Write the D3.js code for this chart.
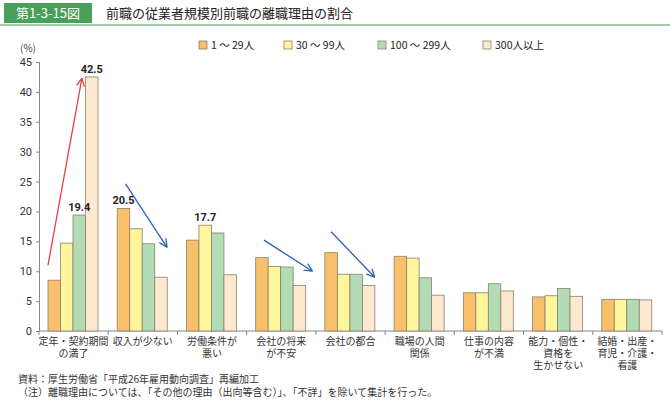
<!DOCTYPE html>
<html>
<head>
<meta charset="UTF-8">
<script src="https://d3js.org/d3.v7.min.js"></script>
<style>
body{margin:0;background:#fff;font-family:"Noto Sans CJK JP",sans-serif;}
</style>
</head>
<body>
<svg id="chart" width="670" height="400"></svg>
<script>
// categories (two-line labels)
var categories = [
  ["定年・契約期間","の満了"],["収入が少ない"],["労働条件が","悪い"],["会社の将来","が不安"],
  ["会社の都合"],["職場の人間","関係"],["仕事の内容","が不満"],["能力・個性・","資格を","生かせない"],
  ["結婚・出産・","育児・介護・","看護"]
];
var seriesNames = ["1 ～ 29人","30 ～ 99人","100 ～ 299人","300人以上"];
var s1 = [8.5,20.5,15.2,12.3,13.1,12.5,6.4,5.7,5.3];
var s2 = [14.7,17.1,17.7,10.8,9.5,12.2,6.4,5.9,5.3];
var s3 = [19.4,14.6,16.4,10.7,9.5,8.9,7.9,7.1,5.3];
var s4 = [42.5,9.0,9.4,7.6,7.6,6.0,6.7,5.8,5.2];
var labeled = [[0,2,19.4],[0,3,42.5],[1,0,20.5],[2,1,17.7]];
var yTicks = [0,5,10,15,20,25,30,35,40,45];
// arrows: [category, position across group 0..1, value] start/end
var arrows = [
  {c:"#e8413f", from:[0,0.13,11], to:[0,0.62,42.3]},
  {c:"#2f5eb5", from:[1,0.25,24.6], to:[1,0.85,14.0]},
  {c:"#2f5eb5", from:[3,0.25,15.2], to:[3,0.95,10.0]},
  {c:"#2f5eb5", from:[4,0.22,16.6], to:[4,0.85,9.0]}
];
var colors = ["#f9bf6b","#fff59a","#b2dbb6","#fde9cf"];
var series = [s1,s2,s3,s4];

var svg = d3.select("#chart");
var m = {l:39,r:662,t:62,b:331};
var x = d3.scaleBand().domain(d3.range(categories.length)).range([m.l,m.r]).paddingInner(0).paddingOuter(0);
var y = d3.scaleLinear().domain([0,45]).range([m.b,m.t]);
var inner = d3.scaleBand().domain(d3.range(4)).range([9,9+4*12.5]);

// header
svg.append("rect").attr("x",4).attr("y",3).attr("width",88).attr("height",20).attr("fill","#4aa05a");
svg.append("text").attr("x",48).attr("y",18).attr("text-anchor","middle").attr("fill","#fff").attr("font-size",13).text("第1-3-15図");
svg.append("text").attr("x",106).attr("y",18).attr("font-size",13).attr("fill","#222").text("前職の従業者規模別前職の離職理由の割合");
svg.append("line").attr("x1",0).attr("x2",670).attr("y1",25).attr("y2",25).attr("stroke","#4aa05a").attr("stroke-width",1);

// axes
var ya = svg.append("g").attr("transform","translate("+m.l+",0)")
  .call(d3.axisLeft(y).tickValues(yTicks).tickSize(3).tickPadding(4));
ya.select(".domain").attr("stroke","#888");
ya.selectAll("line").attr("stroke","#888");
ya.selectAll("text").attr("font-size",11).attr("fill","#333").attr("font-family","Roboto, sans-serif");
svg.append("text").attr("x",20).attr("y",52).attr("font-size",10).attr("fill","#444").text("(%)");

svg.append("line").attr("x1",m.l).attr("x2",m.r).attr("y1",m.b).attr("y2",m.b).attr("stroke","#888");
svg.selectAll(".ct").data(d3.range(categories.length+1)).enter().append("line")
  .attr("x1",d=>m.l+d*x.bandwidth()).attr("x2",d=>m.l+d*x.bandwidth())
  .attr("y1",m.b).attr("y2",m.b+4).attr("stroke","#888");

// bars
series.forEach(function(s,si){
  svg.selectAll(".b"+si).data(s).enter().append("rect")
    .attr("x",(d,i)=>x(i)+inner(si)).attr("width",inner.bandwidth())
    .attr("y",d=>y(d)).attr("height",d=>y(0)-y(d))
    .attr("fill",colors[si]).attr("stroke","#8c7f6f").attr("stroke-width",0.8);
});
labeled.forEach(function(l){
  svg.append("text").attr("x",x(l[0])+inner(l[1])+inner.bandwidth()/2).attr("y",y(l[2])-4)
    .attr("text-anchor","middle").attr("font-size",11).attr("font-weight","bold")
    .attr("font-family","Roboto, sans-serif").attr("fill","#222").text(l[2].toFixed(1));
});

// category labels
categories.forEach(function(c,i){
  var cx = x(i)+x.bandwidth()/2;
  c.forEach(function(line,k){
    svg.append("text").attr("x",cx).attr("y",345+k*12).attr("text-anchor","middle")
      .attr("font-size",10).attr("fill","#333").text(line);
  });
});

// arrows
function pt(p){return [x(p[0])+p[1]*x.bandwidth(), y(p[2])];}
arrows.forEach(function(a){
  var f=pt(a.from), t=pt(a.to);
  svg.append("line").attr("x1",f[0]).attr("y1",f[1]).attr("x2",t[0]).attr("y2",t[1])
    .attr("stroke",a.c).attr("stroke-width",1.3);
  var ang=Math.atan2(t[1]-f[1],t[0]-f[0]), L=9;
  [0.45,-0.45].forEach(function(d){
    svg.append("line").attr("x1",t[0]).attr("y1",t[1])
      .attr("x2",t[0]-L*Math.cos(ang+d)).attr("y2",t[1]-L*Math.sin(ang+d))
      .attr("stroke",a.c).attr("stroke-width",1.3);
  });
});

// legend
var lx=[199,284,378,483];
seriesNames.forEach(function(n,i){
  svg.append("rect").attr("x",lx[i]).attr("y",41).attr("width",8).attr("height",8)
    .attr("fill",colors[i]).attr("stroke","#8c7f6f").attr("stroke-width",0.8);
  svg.append("text").attr("x",lx[i]+12).attr("y",49).attr("font-size",10.5).attr("fill","#222").text(n);
});

// notes
svg.append("text").attr("x",18).attr("y",383).attr("font-size",10).attr("fill","#333").text("資料：厚生労働省「平成26年雇用動向調査」再編加工");
svg.append("text").attr("x",18).attr("y",396).attr("font-size",10).attr("fill","#333").text("（注）離職理由については、「その他の理由（出向等含む）」、「不詳」を除いて集計を行った。");
</script>
</body>
</html>
